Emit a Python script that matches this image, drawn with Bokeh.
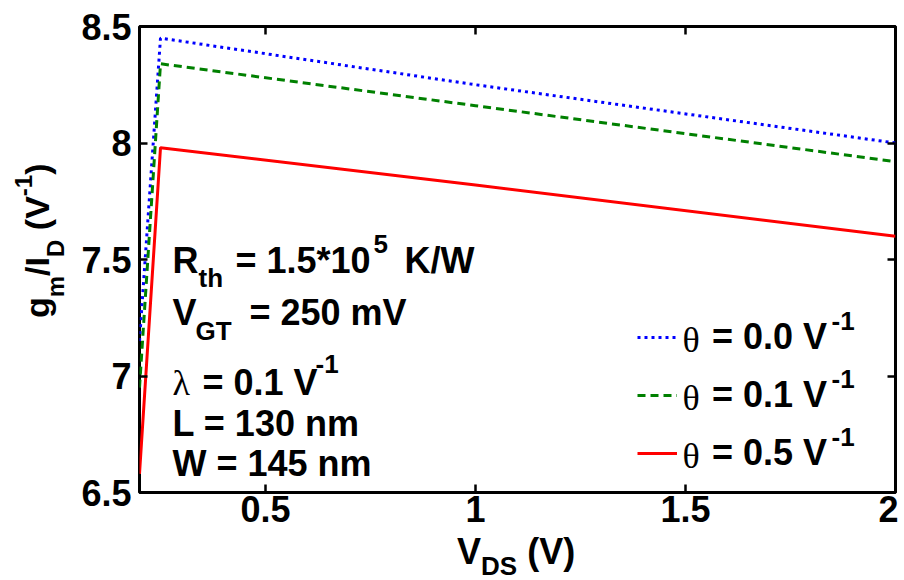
import math
from bokeh.plotting import figure
from bokeh.layouts import row, column
from bokeh.models import (Label, LinearAxis, Range1d, FixedTicker, Legend,
                          LegendItem, NumeralTickFormatter, CustomJSTickFormatter, Div)
from bokeh.embed import file_html
from bokeh.resources import INLINE

# ---------------- data ----------------
vds = [0.2, 0.25, 1.0, 2.0]
gm_theta00 = [7.15, 8.45, 8.25, 8.00]
gm_theta01 = [6.95, 8.34, 8.16, 7.92]
gm_theta05 = [6.58, 7.98, 7.82, 7.60]
x_ticks = [0.5, 1.0, 1.5, 2.0]
y_ticks = [6.5, 7.0, 7.5, 8.0, 8.5]
legend_labels = ["0.0", "0.1", "0.5"]

X0, X1 = 0.2, 2.0
Y0, Y1 = 6.5, 8.5

# ---------------- layout (pixels on the page) ----------------
MX, MY = 8, 0                # offsets of the layout on the page
YDIV_W = 62                  # left strip holding the y-axis title
FL, FT, FW, FH = 137, 26, 756, 466   # frame left/top/width/height on page
TOTAL_W, TOTAL_H = 888, 578
PW = TOTAL_W - YDIV_W
BL = FL - MX - YDIV_W
BT = FT - MY
BB = 44
PH = BT + FH + BB
BR = PW - BL - FW

def dx(px):
    return X0 + (px - FL) * (X1 - X0) / FW

def dy(py):
    return Y1 - (py - FT) * (Y1 - Y0) / FH

p = figure(width=PW, height=PH, output_backend="svg", toolbar_location=None,
           x_range=Range1d(X0, X1), y_range=Range1d(Y0, Y1),
           min_border_left=BL, min_border_right=BR,
           min_border_top=BT, min_border_bottom=BB,
           x_axis_location=None, y_axis_location=None)
p.background_fill_color = "white"
p.border_fill_color = "white"
p.xgrid.visible = False
p.ygrid.visible = False
p.outline_line_color = "black"
p.outline_line_width = 3

FONT = "Liberation Sans"

def style_axis(ax, show_labels):
    ax.axis_line_color = None
    ax.major_tick_in = 8
    ax.major_tick_out = 0
    ax.minor_tick_line_color = None
    ax.major_tick_line_width = 2.5
    ax.major_tick_line_color = "black"
    if show_labels:
        ax.formatter = NumeralTickFormatter(format="0.[0]")
        ax.major_label_text_font = FONT
        ax.major_label_text_font_style = "bold"
        ax.major_label_text_font_size = "36px"
        ax.major_label_text_color = "black"
        ax.major_label_standoff = 3
    else:
        ax.formatter = CustomJSTickFormatter(code="return ''")
        ax.major_label_standoff = 0

xb = LinearAxis(ticker=FixedTicker(ticks=x_ticks))
style_axis(xb, True)
p.add_layout(xb, "below")
xt = LinearAxis(ticker=FixedTicker(ticks=x_ticks))
style_axis(xt, False)
p.add_layout(xt, "above")
yl = LinearAxis(ticker=FixedTicker(ticks=y_ticks))
style_axis(yl, True)
yl.major_label_standoff = 8
p.add_layout(yl, "left")
yr = LinearAxis(ticker=FixedTicker(ticks=y_ticks))
style_axis(yr, False)
p.add_layout(yr, "right")

# ---------------- curves ----------------
r0 = p.line(vds, gm_theta00, line_color="#0000ff", line_width=3, line_dash="3 4")
r1 = p.line(vds, gm_theta01, line_color="#008000", line_width=3, line_dash="8 5")
r5 = p.line(vds, gm_theta05, line_color="#ff0000", line_width=3)

MAIN, SUB = 36, 26
THETA_GAP = 35

# rows: glyph line at page y 319/377/435, label baseline ~20px lower
legend = Legend(items=[LegendItem(label=f"= {lab} V", renderers=[r])
                       for lab, r in zip(legend_labels, [r0, r1, r5])],
                location=(635 - FL, (FT + FH) - 481),
                glyph_width=40, glyph_height=20, label_height=56, label_width=0,
                spacing=2, padding=0, margin=0, label_standoff=THETA_GAP,
                label_text_font=FONT, label_text_font_style="bold",
                label_text_font_size=f"{MAIN}px", label_text_color="black",
                border_line_color=None, background_fill_alpha=0)
p.add_layout(legend)

# ---------------- texts inside the frame ----------------
def txt(px, py, text, size, font=FONT, style="bold"):
    p.add_layout(Label(x=dx(px), y=dy(py), text=text, text_font=font,
                       text_font_style=style, text_font_size=f"{size}px",
                       text_color="black", text_align="left",
                       text_baseline="alphabetic"))

txt(170, 260, "R", MAIN)
txt(196, 277, "th", SUB)
txt(233, 260, "= 1.5*10", MAIN)
txt(371, 243, "5", SUB)
txt(402, 260, "K/W", MAIN)

txt(170, 312, "V", MAIN)
txt(193, 330, "GT", SUB)
txt(247, 312, "= 250 mV", MAIN)

txt(170, 382, "λ", MAIN, font="Liberation Serif", style="normal")
txt(200, 382, "= 0.1 V", MAIN)
txt(313, 363, "-1", SUB)

txt(170, 423, "L = 130 nm", MAIN)
txt(170, 463, "W = 145 nm", MAIN)

for i in range(len(legend_labels)):
    base = 339 + i * 58
    txt(680, base, "θ", MAIN, font="Liberation Serif", style="normal")
    txt(829, base - 19, "-1", SUB)

# ---------------- axis titles (HTML, with sub/superscripts) ----------------
def text_style(size):
    return (f"font-family:'{FONT}';font-weight:bold;font-size:{size}px;"
            f"line-height:{size}px;white-space:nowrap;color:black;")

def sub(s, size, off):
    return (f"<span style=\"font-size:{size}px;position:relative;top:{off}px\">"
            f"{s}</span>")

# y title: baseline at page x=52, starts (bottom) at page y=313
YM, YS = 34, 24
ylab_html = (
    f"<div style=\"position:relative;width:{YDIV_W}px;height:{TOTAL_H}px;\">"
    f"<div style=\"position:absolute;left:{52 - MX - 0.85 * YM}px;top:{313 - MY}px;"
    f"transform:rotate(-90deg);transform-origin:left top;{text_style(YM)}\">"
    f"g{sub('m', YS, 15)}/I{sub('D', YS, 15)} (V{sub('-1', YS, -17)})</div></div>")
ydiv = Div(text=ylab_html, width=YDIV_W, height=TOTAL_H,
           styles={"overflow": "visible"})

# x title: "V" starts at page x=450, baseline page y=560
XDIV_H = TOTAL_H - PH
xtop = MY + PH
xlab_html = (
    f"<div style=\"position:relative;width:{PW}px;height:{XDIV_H}px;\">"
    f"<div style=\"position:absolute;left:{450 - MX - YDIV_W}px;"
    f"top:{560 - xtop - 0.85 * MAIN}px;{text_style(MAIN)}\">"
    f"V{sub('DS', SUB, 11)} (V)</div></div>")
xdiv = Div(text=xlab_html, width=PW, height=XDIV_H,
           styles={"overflow": "visible"})

layout = row(ydiv, column(p, xdiv, spacing=0), spacing=0)

open("out.html", "w").write(file_html(layout, INLINE))
